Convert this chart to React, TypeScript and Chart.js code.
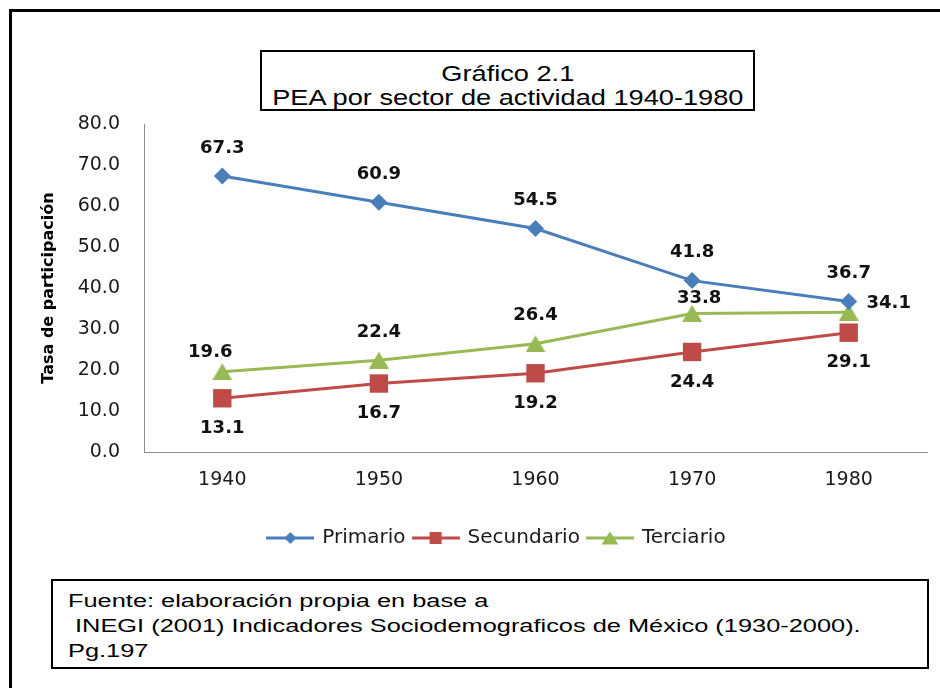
import React, { useEffect, useRef } from 'react';
import Chart from 'chart.js/auto';

// ---- data ----
const categories = ['1940', '1950', '1960', '1970', '1980'];
const seriesNames = ['Primario', 'Secundario', 'Terciario'];
const primario = [67.3, 60.9, 54.5, 41.8, 36.7];
const secundario = [13.1, 16.7, 19.2, 24.4, 29.1];
const terciario = [19.6, 22.4, 26.4, 33.8, 34.1];
const yMin = 0;
const yMax = 80;
const yStep = 10;
const titleLines = ['Gráfico 2.1', 'PEA por sector de actividad 1940-1980'];
const yAxisTitle = 'Tasa de participación';
const sourceLines = [
  'Fuente: elaboración propia en base a',
  ' INEGI (2001) Indicadores Sociodemograficos de México (1930-2000).',
  'Pg.197',
];

// ---- styling ----
const COLORS = ['#4A7EBB', '#BE4B48', '#98B954'];
const SANS = '"DejaVu Sans", Verdana, sans-serif';
const ARIAL = '"Liberation Sans", Arial, sans-serif';
const TEXT = '#1a1a1a';
const AXIS = '#8c8c8c';

// label placement per series (dx, dy in px relative to the point)
const LABEL_OFFSETS: number[][][] = [
  [[0, -28], [0, -28], [0, -28], [0, -28], [0, -28]],
  [[0, 30], [0, 30], [0, 30], [0, 30], [0, 30]],
  [[-12, -19], [0, -28], [0, -28], [7, -15], [40, -9]],
];

function makeCanvas(w: number, h: number) {
  const c = document.createElement('canvas');
  c.width = w;
  c.height = h;
  return c;
}

function triangleImage(color: string, w: number, h: number) {
  const c = makeCanvas(w, h);
  const g = c.getContext('2d')!;
  g.fillStyle = color;
  g.beginPath();
  g.moveTo(w / 2, 0);
  g.lineTo(w, h);
  g.lineTo(0, h);
  g.closePath();
  g.fill();
  return c;
}

function legendIcon(kind: number, color: string) {
  const w = 48;
  const h = 20;
  const c = makeCanvas(w, h);
  const g = c.getContext('2d')!;
  g.strokeStyle = color;
  g.fillStyle = color;
  g.lineWidth = 3;
  g.beginPath();
  g.moveTo(0, h / 2);
  g.lineTo(w, h / 2);
  g.stroke();
  const cx = w / 2;
  const cy = h / 2;
  g.beginPath();
  if (kind === 0) {
    g.moveTo(cx - 6, cy);
    g.lineTo(cx, cy - 6);
    g.lineTo(cx + 6, cy);
    g.lineTo(cx, cy + 6);
  } else if (kind === 1) {
    g.rect(cx - 6, cy - 6, 12, 12);
  } else {
    g.moveTo(cx, cy - 6.5);
    g.lineTo(cx + 8.5, cy + 6.5);
    g.lineTo(cx - 8.5, cy + 6.5);
  }
  g.closePath();
  g.fill();
  return c;
}

const valueLabels = {
  id: 'valueLabels',
  afterDatasetsDraw(chart: any) {
    const ctx = chart.ctx;
    ctx.save();
    ctx.font = `bold 18px ${SANS}`;
    ctx.fillStyle = '#111';
    ctx.textAlign = 'center';
    ctx.textBaseline = 'middle';
    chart.data.datasets.forEach((ds: any, di: number) => {
      const meta = chart.getDatasetMeta(di);
      meta.data.forEach((pt: any, i: number) => {
        const [dx, dy] = LABEL_OFFSETS[di][i];
        ctx.fillText(Number(ds.data[i]).toFixed(1), pt.x + dx, pt.y + dy);
      });
    });
    ctx.restore();
  },
};

export default function App() {
  const ref = useRef<HTMLCanvasElement | null>(null);

  useEffect(() => {
    if (!ref.current) return;
    const icons = [0, 1, 2].map((k) => legendIcon(k, COLORS[k]));
    const tri = triangleImage(COLORS[2], 20, 17);
    const values = [primario, secundario, terciario];
    const styles: any[] = ['rectRot', 'rect', tri];
    const radii = [8.5, 13, 10];

    const chart = new Chart(ref.current, {
      type: 'line',
      data: {
        labels: categories,
        datasets: values.map((v, i) => ({
          label: seriesNames[i],
          data: v,
          borderColor: COLORS[i],
          backgroundColor: COLORS[i],
          borderWidth: 3,
          pointStyle: styles[i],
          pointRadius: radii[i],
          pointBackgroundColor: COLORS[i],
          pointBorderColor: COLORS[i],
          pointBorderWidth: 0,
          tension: 0,
          fill: false,
        })),
      },
      options: {
        responsive: false,
        devicePixelRatio: 1,
        animation: false,
        events: [],
        layout: { padding: { left: 65, right: 11, top: 124, bottom: 130 } },
        scales: {
          x: {
            offset: true,
            grid: { display: false, drawTicks: false },
            border: { display: true, color: AXIS, width: 1 },
            ticks: { color: TEXT, font: { family: SANS, size: 19 }, padding: 17, maxRotation: 0 },
            afterFit: (s: any) => {
              s.height = 68;
            },
          },
          y: {
            min: yMin,
            max: yMax,
            grid: { display: false, drawTicks: false },
            border: { display: true, color: AXIS, width: 1 },
            ticks: {
              stepSize: yStep,
              color: TEXT,
              font: { family: SANS, size: 19 },
              padding: 24,
              callback: (v: any) => Number(v).toFixed(1),
            },
            title: {
              display: true,
              text: yAxisTitle,
              color: '#000',
              font: { family: SANS, size: 16, weight: 'bold' },
              padding: { top: -26, bottom: 0 },
            },
            afterFit: (s: any) => {
              s.width = 79;
            },
          },
        },
        plugins: {
          tooltip: { enabled: false },
          title: { display: false },
          legend: {
            display: true,
            position: 'bottom',
            labels: {
              usePointStyle: true,
              pointStyleWidth: 44,
              padding: 8,
              color: TEXT,
              font: { family: SANS, size: 20 },
              generateLabels: (c: any) => {
                const items = (Chart as any).defaults.plugins.legend.labels.generateLabels(c);
                return items.map((it: any, i: number) => ({ ...it, pointStyle: icons[i] }));
              },
            },
          },
        },
      },
      plugins: [valueLabels],
    } as any);
    return () => chart.destroy();
  }, []);

  return (
    <div
      style={{
        position: 'absolute',
        left: 0,
        top: 0,
        width: 940,
        height: 688,
        overflow: 'hidden',
        background: '#fff',
      }}
    >
      <div
        style={{
          position: 'absolute',
          left: 9,
          top: 9,
          width: 1000,
          height: 1000,
          border: '3px solid #000',
        }}
      />
      <canvas
        ref={ref}
        width={940}
        height={688}
        style={{ position: 'absolute', left: 0, top: 0, width: 940, height: 688 }}
      />
      <div
        style={{
          position: 'absolute',
          left: 260,
          top: 50,
          width: 495,
          height: 61,
          boxSizing: 'border-box',
          border: '2px solid #000',
          background: '#fff',
          paddingTop: 10,
          fontFamily: ARIAL,
          fontSize: 22,
          lineHeight: '24px',
          color: '#000',
          textAlign: 'center',
        }}
      >
        {titleLines.map((t) => (
          <div key={t} style={{ whiteSpace: 'nowrap' }}>
            <span style={{ display: 'inline-block', transform: 'scaleX(1.235)', transformOrigin: 'center' }}>{t}</span>
          </div>
        ))}
      </div>
      <div
        style={{
          position: 'absolute',
          left: 51,
          top: 579,
          width: 878,
          height: 90,
          boxSizing: 'border-box',
          border: '2px solid #000',
          background: '#fff',
          paddingTop: 8,
          paddingLeft: 15,
          fontFamily: ARIAL,
          fontSize: 17.5,
          lineHeight: '25px',
          color: '#000',
        }}
      >
        {sourceLines.map((t) => (
          <div key={t} style={{ whiteSpace: 'pre' }}>
            <span style={{ display: 'inline-block', transform: 'scaleX(1.45)', transformOrigin: 'left' }}>{t}</span>
          </div>
        ))}
      </div>
    </div>
  );
}
